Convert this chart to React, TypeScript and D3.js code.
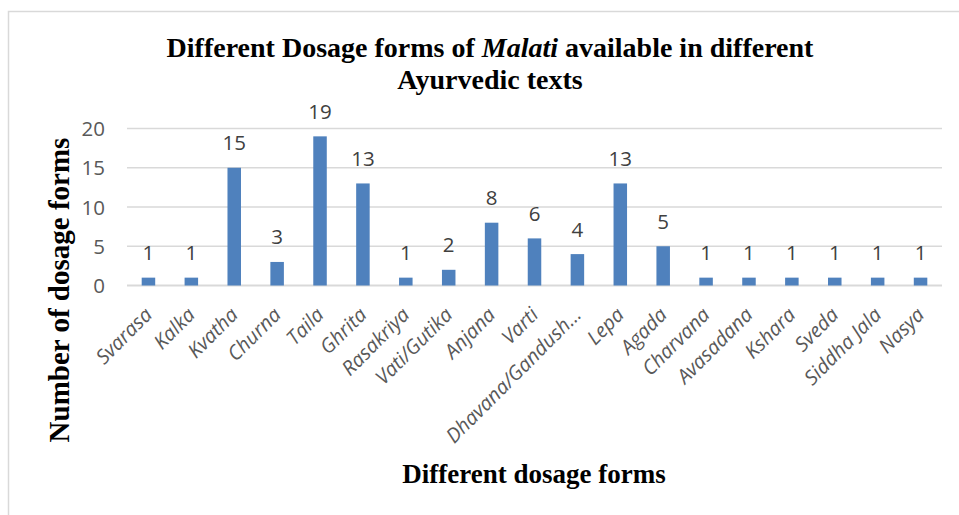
import React, { useRef, useEffect } from "react";
import * as d3 from "d3";

const forms = [
  "Svarasa", "Kalka", "Kvatha", "Churna", "Taila", "Ghrita", "Rasakriya",
  "Vati/Gutika", "Anjana", "Varti", "Dhavana/Gandush…", "Lepa", "Agada",
  "Charvana", "Avasadana", "Kshara", "Sveda", "Siddha Jala", "Nasya",
];
const counts = [1, 1, 15, 3, 19, 13, 1, 2, 8, 6, 4, 13, 5, 1, 1, 1, 1, 1, 1];
const yTicks = [0, 5, 10, 15, 20];

const App = () => {
  const svgRef = useRef<SVGSVGElement | null>(null);

  useEffect(() => {
    const svg = d3.select(svgRef.current);
    svg.selectAll("*").remove();

    const width = 959;
    const height = 515;
    svg.attr("width", width).attr("height", height);

    const left = 127;
    const right = 942;
    const top = 128.5;
    const bottom = 285.5;
    const sans = "'Open Sans', sans-serif";
    const serif = "'Liberation Serif', 'Times New Roman', serif";

    // chart frame
    svg
      .append("rect")
      .attr("x", 8.5)
      .attr("y", 11.5)
      .attr("width", 1000)
      .attr("height", 600)
      .attr("fill", "#fff")
      .attr("stroke", "#d9d9d9")
      .attr("stroke-width", 1.5);

    const x = d3
      .scaleBand()
      .domain(forms)
      .range([left, right])
      .paddingInner(0.685)
      .paddingOuter(0.3425);

    const y = d3.scaleLinear().domain([0, 20]).range([bottom, top]);

    // gridlines
    svg
      .append("g")
      .selectAll("line")
      .data(yTicks)
      .enter()
      .append("line")
      .attr("x1", left)
      .attr("x2", right)
      .attr("y1", (d) => y(d))
      .attr("y2", (d) => y(d))
      .attr("stroke", "#d9d9d9")
      .attr("stroke-width", (d) => (d === 0 ? 2 : 1.5));

    // y tick labels
    svg
      .append("g")
      .selectAll("text")
      .data(yTicks)
      .enter()
      .append("text")
      .attr("x", 105)
      .attr("y", (d) => y(d) + 7.5)
      .attr("text-anchor", "end")
      .attr("font-family", sans)
      .attr("font-size", 20.5)
      .attr("fill", "#595959")
      .text((d) => d);

    const data = forms.map((f, i) => ({ f, v: counts[i] }));

    // bars
    svg
      .append("g")
      .selectAll("rect")
      .data(data)
      .enter()
      .append("rect")
      .attr("x", (d) => x(d.f)!)
      .attr("y", (d) => y(d.v))
      .attr("width", x.bandwidth())
      .attr("height", (d) => bottom - y(d.v))
      .attr("fill", "#4f81bd");

    // value labels
    svg
      .append("g")
      .selectAll("text")
      .data(data)
      .enter()
      .append("text")
      .attr("x", (d) => x(d.f)! + x.bandwidth() / 2)
      .attr("y", (d) => y(d.v) - 17.5)
      .attr("text-anchor", "middle")
      .attr("font-family", sans)
      .attr("font-size", 20.5)
      .attr("fill", "#404040")
      .text((d) => d.v);

    // category labels, rotated
    svg
      .append("g")
      .selectAll("text")
      .data(forms)
      .enter()
      .append("text")
      .attr(
        "transform",
        (d) => `translate(${x(d)! + x.bandwidth() / 2 + 5}, 316) rotate(-45)`
      )
      .attr("text-anchor", "end")
      .attr("font-family", sans)
      .attr("font-style", "italic")
      .attr("font-size", 20)
      .attr("fill", "#595959")
      .text((d) => d);

    // title
    const title = svg
      .append("text")
      .attr("text-anchor", "middle")
      .attr("font-family", serif)
      .attr("font-weight", "bold")
      .attr("font-size", 28)
      .attr("fill", "#000");
    const l1 = title.append("tspan").attr("x", 490).attr("y", 57);
    l1.append("tspan").text("Different Dosage forms of ");
    l1.append("tspan").attr("font-style", "italic").text("Malati");
    l1.append("tspan").text(" available in different");
    title.append("tspan").attr("x", 490).attr("y", 89).text("Ayurvedic texts");

    // axis titles
    svg
      .append("text")
      .attr("x", 534)
      .attr("y", 483)
      .attr("text-anchor", "middle")
      .attr("font-family", serif)
      .attr("font-weight", "bold")
      .attr("font-size", 27)
      .text("Different dosage forms");

    svg
      .append("text")
      .attr("transform", "translate(69, 290) rotate(-90)")
      .attr("text-anchor", "middle")
      .attr("font-family", serif)
      .attr("font-weight", "bold")
      .attr("font-size", 29)
      .text("Number of dosage forms");
  }, []);

  return (
    <svg
      ref={svgRef}
      style={{ position: "absolute", left: 0, top: 0, background: "#fff" }}
    />
  );
};

export default App;
